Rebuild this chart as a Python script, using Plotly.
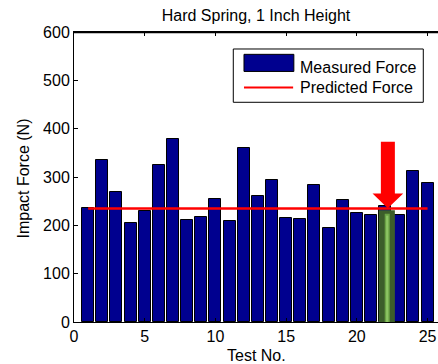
import plotly.graph_objects as go

# ---- data ----
test_no = list(range(1, 26))
measured_force = [235, 335, 268, 205, 230, 325, 379, 212, 217, 254, 210,
                  361, 261, 293, 215, 213, 284, 195, 252, 226, 221, 241,
                  221, 313, 287]
predicted_force = 235
highlight_test = 22

title_text = "Hard Spring, 1 Inch Height"
x_title = "Test No."
y_title = "Impact Force (N)"
x_ticks = [0, 5, 10, 15, 20, 25]
y_ticks = [0, 100, 200, 300, 400, 500, 600]

FONT = "Liberation Sans, Arial, sans-serif"
FS = 16
NAVY = "#00008F"

fig = go.Figure()
fig.add_trace(go.Bar(
    x=test_no, y=measured_force, width=0.85, name="Measured Force",
    marker=dict(color=NAVY, line=dict(color="black", width=1)),
    showlegend=False,
))
fig.add_trace(go.Scatter(
    x=[test_no[0], test_no[-1]], y=[predicted_force, predicted_force],
    mode="lines", line=dict(color="#FF0000", width=2.5),
    name="Predicted Force", showlegend=False,
))

h = highlight_test
shapes = [
    # green highlight box around the highlighted test
    dict(type="rect", xref="x", yref="y", x0=h - 0.45, x1=h + 0.69,
         y0=-10, y1=231, fillcolor="#3C5E2A", line=dict(width=0), layer="above"),
    dict(type="rect", xref="x", yref="y", x0=h - 0.03, x1=h + 0.33,
         y0=-3, y1=224, fillcolor="#6AA244", line=dict(width=0), layer="above"),
    dict(type="rect", xref="x", yref="y", x0=h + 0.07, x1=h + 0.23,
         y0=0, y1=220, fillcolor="#8CC463", line=dict(width=0), layer="above"),
    # red arrow
    dict(type="path", xref="x", yref="y", layer="above",
         path=(f"M {h-0.30},373 L {h+0.69},373 L {h+0.69},266 L {h+1.28},266 "
               f"L {h+0.19},235.5 L {h-0.89},266 L {h-0.30},266 Z"),
         fillcolor="#FF0000", line=dict(width=0)),
    # top axis line (MATLAB box)
    dict(type="line", xref="paper", yref="paper", x0=0, x1=1, y0=0.9985, y1=0.9985,
         line=dict(color="black", width=1.5), layer="above"),
    # legend box
    dict(type="rect", xref="paper", yref="paper", x0=0.4376, x1=0.9596,
         y0=0.7576, y1=0.9414, fillcolor="white", line=dict(color="black", width=1),
         layer="above"),
    dict(type="rect", xref="paper", yref="paper", x0=0.467, x1=0.604,
         y0=0.864, y1=0.923, fillcolor=NAVY, line=dict(color="black", width=1),
         layer="above"),
    dict(type="line", xref="paper", yref="paper", x0=0.467, x1=0.602,
         y0=0.809, y1=0.809, line=dict(color="#FF0000", width=2), layer="above"),
]

annotations = [
    dict(text="Measured Force", xref="paper", yref="paper", x=0.616, y=0.879,
         xanchor="left", yanchor="middle", showarrow=False,
         font=dict(family=FONT, size=FS, color="black")),
    dict(text="Predicted Force", xref="paper", yref="paper", x=0.616, y=0.807,
         xanchor="left", yanchor="middle", showarrow=False,
         font=dict(family=FONT, size=FS, color="black")),
    dict(text=y_title, xref="paper", yref="paper", x=-0.1387, y=0.493,
         xanchor="center", yanchor="middle", textangle=-90, showarrow=False,
         font=dict(family=FONT, size=FS, color="black")),
    dict(text=x_title, xref="paper", yref="paper", x=0.5, y=-0.114,
         xanchor="center", yanchor="middle", showarrow=False,
         font=dict(family=FONT, size=FS, color="black")),
]

fig.update_layout(
    width=438, height=364,
    margin=dict(l=74, r=0, t=32, b=42),
    paper_bgcolor="white", plot_bgcolor="white",
    font=dict(family=FONT, size=FS, color="black"),
    title=dict(text=title_text, x=256 / 438, xanchor="center",
               y=1 - 15 / 364, yanchor="middle", yref="container",
               font=dict(family=FONT, size=FS, color="black")),
    shapes=shapes, annotations=annotations,
    bargap=0,
    showlegend=False,
)
fig.update_xaxes(
    range=[0, 25.74], tickvals=x_ticks, ticktext=[str(v) for v in x_ticks],
    ticks="inside", ticklen=4, tickcolor="black", showline=True,
    linecolor="black", linewidth=1, mirror="ticks", showgrid=False,
    zeroline=False, tickfont=dict(family=FONT, size=FS),
)
fig.update_yaxes(
    range=[0, 600], tickvals=y_ticks, ticktext=[str(v) for v in y_ticks],
    ticks="inside", ticklen=4, tickcolor="black", showline=True,
    linecolor="black", linewidth=1, mirror=False, showgrid=False,
    zeroline=False, tickfont=dict(family=FONT, size=FS),
)

fig.write_html(
    "out.html",
    config={"displayModeBar": False},
    post_script="document.body.style.margin='0';document.body.style.overflow='hidden';",
)
